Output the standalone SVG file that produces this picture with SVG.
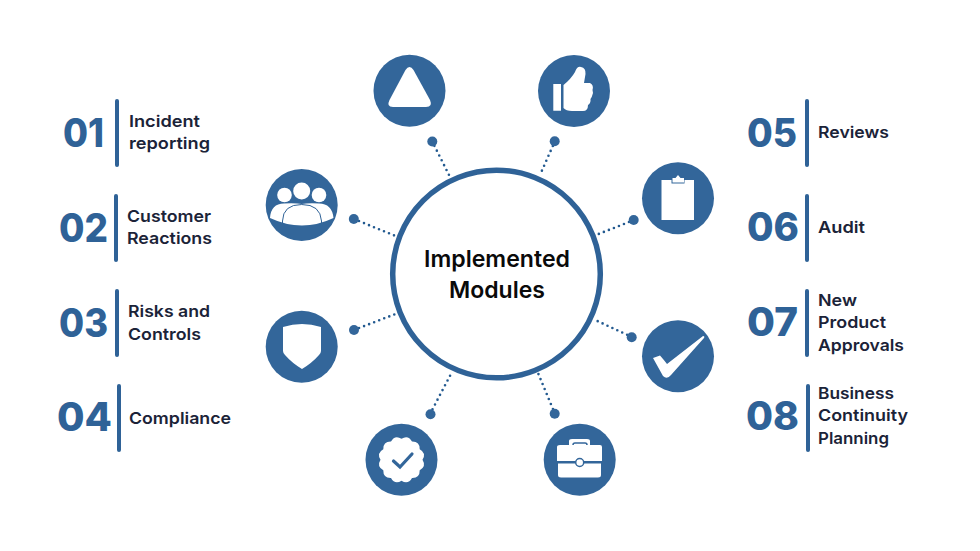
<svg xmlns="http://www.w3.org/2000/svg" width="980" height="551" viewBox="0 0 980 551">
<style>
.c{fill:#33669a}
.w{fill:#fff}
.d{stroke:#235a90;stroke-width:2.6;stroke-linecap:round;stroke-dasharray:0 5.4;fill:none}
.b{stroke:#2f6297;stroke-width:4;stroke-linecap:round}
.n{font-family:Inter,"Liberation Sans",sans-serif;font-weight:800;font-size:39px;fill:#2f6297}
.l{font-family:Inter,"Liberation Sans",sans-serif;font-weight:600;font-size:16.6px;fill:#1b2338}
.t{font-family:Inter,"Liberation Sans",sans-serif;font-weight:600;font-size:23.5px;fill:#0a0a0a;text-anchor:middle}
</style>
<rect width="980" height="551" fill="#fff"/>
<g id="connectors">
<path class="d" d="M432 141L450 177M354 219L398 237M555 141L540 175M634 220L596 235M354 330L398 313M430 414L452 372M632 337L593 319M555 414L538 373"/>
<g class="c"><circle cx="432.300" cy="141.500" r="5"/><circle cx="353.800" cy="219" r="5"/><circle cx="554.700" cy="141.300" r="5"/><circle cx="633.700" cy="220" r="5"/><circle cx="354" cy="330" r="5"/><circle cx="430.500" cy="414.300" r="5"/><circle cx="631.700" cy="337.300" r="5"/><circle cx="554.700" cy="413.700" r="5"/></g>
</g>
<g id="center">
<circle cx="496.500" cy="274" r="103.800" fill="#fff" stroke="#2f6297" stroke-width="5.500"/>
<text class="t" x="497" y="267" textLength="146" lengthAdjust="spacingAndGlyphs">Implemented</text>
<text class="t" x="497" y="298" textLength="96" lengthAdjust="spacingAndGlyphs">Modules</text>
</g>
<g id="icon-triangle"><circle class="c" cx="409.500" cy="90.700" r="36"/>
<path class="w" d="M405.500 70Q409.500 64 413.500 70L430 100Q433 107 426 107H393Q386 107 389.500 100Z"/></g>
<g id="icon-thumb"><circle class="c" cx="574" cy="91" r="36"/>
<path class="w" d="M553.300 84H561V110.700H553.300ZM563.500 85Q571 79 575 72Q577 66 581 67Q586 68 585.500 74L584 83H590Q594 85 592.500 90L593 93Q592 97 590.500 99Q591 103 588 105Q588 111 583 111H572Q566 111 563.500 108Z"/></g>
<g id="icon-clipboard"><circle class="c" cx="678" cy="198.300" r="36"/>
<path class="w" d="M661.500 180H671.500V183.500H684.500V180H694V220H661.500Z"/><path class="w" d="M672.500 178H675.500L678 175L680.500 178H684V182.500H672.500Z"/></g>
<g id="icon-group"><circle class="c" cx="301.700" cy="205" r="36"/>
<circle class="w" cx="284.500" cy="195" r="7.300"/><circle class="w" cx="319" cy="195" r="7.300"/><circle class="w" cx="301.700" cy="191" r="8.500"/>
<path class="w" d="M270 218Q271 203.500 284 203.500Q296 203 301.700 204Q308 203 319 203.500Q332 203.500 333.500 218Q302 233 270 218Z"/>
<path d="M282.500 223V221Q283 204.500 301.700 204.500Q320.500 204.500 321.500 221V223" fill="none" stroke="#2f6297" stroke-width="1"/></g>
<g id="icon-shield"><circle class="c" cx="301.700" cy="346.700" r="36"/>
<path class="w" d="M283 327Q302 321 321 327V351Q321 353 319 355Q312 363 302 369Q292 363 285 355Q283 353 283 351Z"/></g>
<g id="icon-check"><circle class="c" cx="678" cy="356.300" r="36"/>
<path class="w" d="M653 358L660 355.500Q664 360 667 364L703 336Q705 336 704 338L671 375Q667 380 663 376Z"/></g>
<g id="icon-badge"><circle class="c" cx="401.500" cy="459.700" r="36"/>
<path class="w" d="M422.500 459.700Q426.600 466.400 419.700 470.200Q419.900 478.100 412 477.900Q408.200 484.800 401.500 480.700Q394.800 484.800 391 477.900Q383.100 478.100 383.300 470.200Q376.400 466.400 380.500 459.700Q376.400 453 383.300 449.200Q383.100 441.300 391 441.500Q394.800 434.600 401.500 438.700Q408.200 434.600 412 441.500Q419.900 441.300 419.700 449.200Q426.600 453 422.500 459.700Z"/>
<path d="M393.500 461L400 467L412 454" fill="none" stroke="#33669a" stroke-width="3.200" stroke-linecap="round"/></g>
<g id="icon-briefcase"><circle class="c" cx="579.700" cy="459.700" r="36"/>
<path class="w" d="M557 447Q557 445 560 445H569V441Q569 439 572 439H587Q590 439 590 441V445H600Q602 445 602 447V461H557Z"/>
<path class="w" d="M558 463.500H601V475Q601 477.500 598 477.500H561Q558 477.500 558 475Z"/>
<path d="M573 445Q573 443 575 443H585Q587 443 587 445" fill="none" stroke="#33669a" stroke-width="1.500"/>
<circle cx="579.700" cy="462.500" r="4" fill="#fff" stroke="#33669a" stroke-width="1.500"/></g>
<g id="item-01"><text class="n" x="63" y="147" textLength="41" lengthAdjust="spacingAndGlyphs">01</text><path class="b" d="M117 101V165"/><text class="l" x="129" y="127" textLength="71" lengthAdjust="spacingAndGlyphs">Incident</text><text class="l" x="129" y="149" textLength="81" lengthAdjust="spacingAndGlyphs">reporting</text></g>
<g id="item-02"><text class="n" x="59" y="242" textLength="49" lengthAdjust="spacingAndGlyphs">02</text><path class="b" d="M116 196V260"/><text class="l" x="127" y="222" textLength="84" lengthAdjust="spacingAndGlyphs">Customer</text><text class="l" x="127" y="244" textLength="85" lengthAdjust="spacingAndGlyphs">Reactions</text></g>
<g id="item-03"><text class="n" x="59" y="337" textLength="49" lengthAdjust="spacingAndGlyphs">03</text><path class="b" d="M117 291V355"/><text class="l" x="128" y="317" textLength="82" lengthAdjust="spacingAndGlyphs">Risks and</text><text class="l" x="128" y="339.500" textLength="73" lengthAdjust="spacingAndGlyphs">Controls</text></g>
<g id="item-04"><text class="n" x="57" y="431" textLength="55" lengthAdjust="spacingAndGlyphs">04</text><path class="b" d="M119 386V450"/><text class="l" x="129" y="423.500" textLength="102" lengthAdjust="spacingAndGlyphs">Compliance</text></g>
<g id="item-05"><text class="n" x="747" y="147" textLength="50" lengthAdjust="spacingAndGlyphs">05</text><path class="b" d="M807 101V165"/><text class="l" x="818" y="138" textLength="71" lengthAdjust="spacingAndGlyphs">Reviews</text></g>
<g id="item-06"><text class="n" x="747" y="241" textLength="52" lengthAdjust="spacingAndGlyphs">06</text><path class="b" d="M807 196V260"/><text class="l" x="818" y="233" textLength="47" lengthAdjust="spacingAndGlyphs">Audit</text></g>
<g id="item-07"><text class="n" x="747" y="336" textLength="51" lengthAdjust="spacingAndGlyphs">07</text><path class="b" d="M807 291V355"/><text class="l" x="818" y="306" textLength="39" lengthAdjust="spacingAndGlyphs">New</text><text class="l" x="818" y="328" textLength="68" lengthAdjust="spacingAndGlyphs">Product</text><text class="l" x="818" y="351" textLength="86" lengthAdjust="spacingAndGlyphs">Approvals</text></g>
<g id="item-08"><text class="n" x="746" y="430" textLength="53" lengthAdjust="spacingAndGlyphs">08</text><path class="b" d="M808 386V450"/><text class="l" x="818" y="399" textLength="76" lengthAdjust="spacingAndGlyphs">Business</text><text class="l" x="818" y="421" textLength="90" lengthAdjust="spacingAndGlyphs">Continuity</text><text class="l" x="818" y="444" textLength="71" lengthAdjust="spacingAndGlyphs">Planning</text></g>
</svg>
